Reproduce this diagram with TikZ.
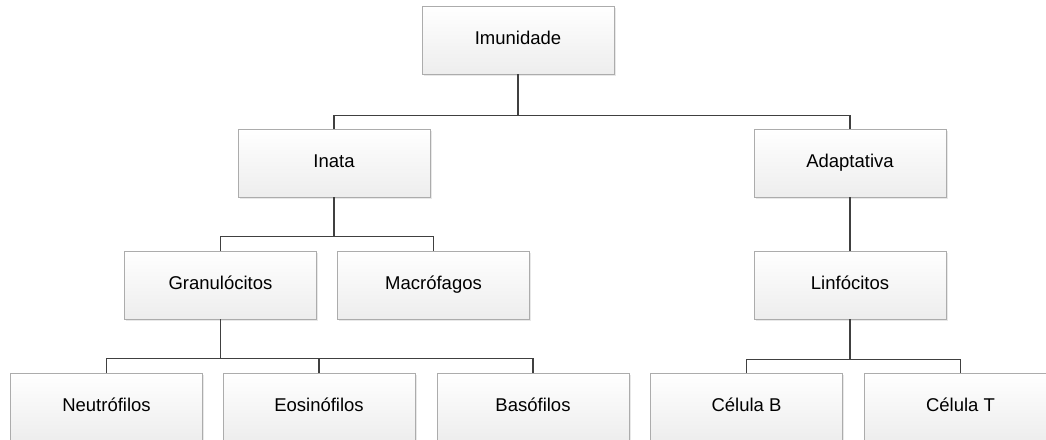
\documentclass[tikz,border=0pt]{standalone}
\usepackage{fontspec}
\setmainfont{Liberation Sans}
\usetikzlibrary{shadows}

\begin{document}
\begin{tikzpicture}[x=1pt, y=-1pt,
    caixa/.style={draw=gray!65, line width=0.9pt, top color=white, bottom color=gray!14,
      minimum width=192pt, minimum height=68pt, inner sep=0pt, text height=13pt, text depth=4pt,
      font=\fontsize{18.5}{22}\selectfont,
      drop shadow={shadow xshift=1.5pt, shadow yshift=-1.5pt, fill=gray!50, opacity=0.35}},
    liga/.style={draw=black!75, line width=1.3pt}]
  \useasboundingbox[fill=white] (0,0) rectangle (1046,439);
  % nivel 1 e 2
  \node[caixa] (imu) at (518,40) {Imunidade};
  \node[caixa] (inata) at (334,163) {Inata};
  \node[caixa] (adapt) at (850,163) {Adaptativa};
  % nivel 3
  \node[caixa] (gran) at (220.5,285) {Granulócitos};
  \node[caixa] (macro) at (433.5,285) {Macrófagos};
  \node[caixa] (linf) at (850,285) {Linfócitos};
  % nivel 4
  \node[caixa] (neut) at (106.5,407) {Neutrófilos};
  \node[caixa] (eos) at (319,407) {Eosinófilos};
  \node[caixa] (baso) at (533,407) {Basófilos};
  \node[caixa] (celb) at (746.5,407) {Célula B};
  \node[caixa] (celt) at (960.5,407) {Célula T};
  % ligacoes
  \foreach \f in {inata, adapt} { \draw[liga] (imu.south) -- ++(0,41) -| (\f.north); }
  \foreach \f in {gran, macro} { \draw[liga] (inata.south) -- ++(0,39) -| (\f.north); }
  \draw[liga] (adapt.south) -- (linf.north);
  \foreach \f in {neut, eos, baso} { \draw[liga] (gran.south) -- ++(0,39) -| (\f.north); }
  \foreach \f in {celb, celt} { \draw[liga] (linf.south) -- ++(0,40) -| (\f.north); }
\end{tikzpicture}
\end{document}
